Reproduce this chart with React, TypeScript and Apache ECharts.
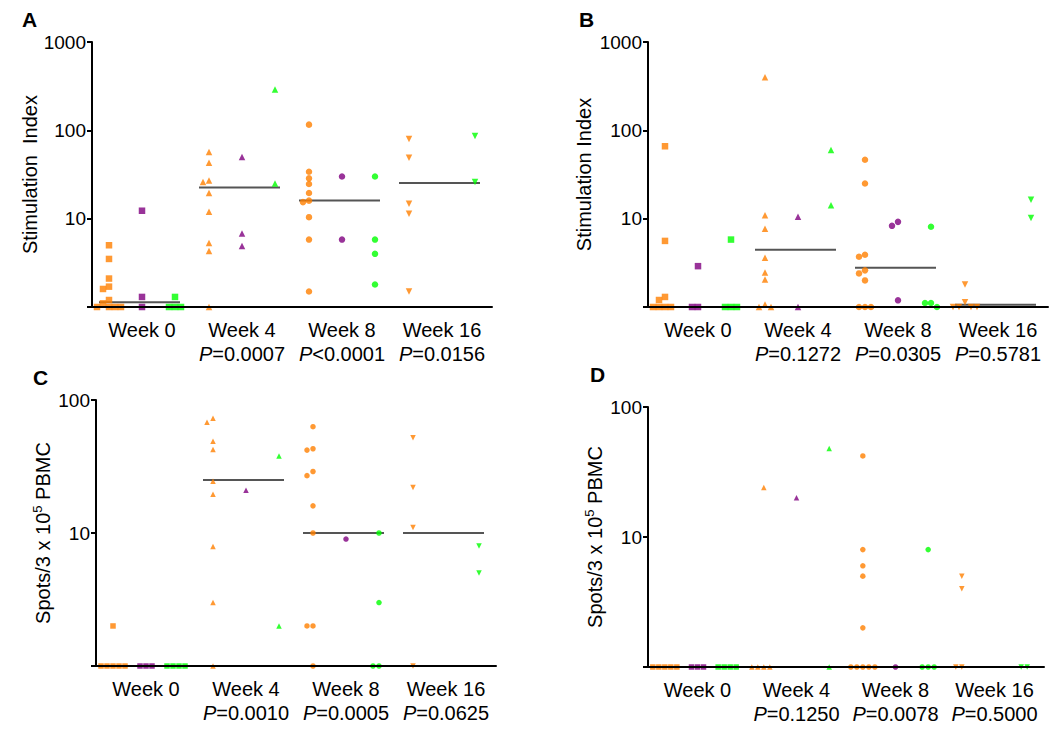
import React, { useEffect, useRef } from "react";
import * as echarts from "echarts";

// ---------- data ----------
const weeks = ["Week 0", "Week 4", "Week 8", "Week 16"];

const pA = ["", "=0.0007", "<0.0001", "=0.0156"];
const pB = ["", "=0.1272", "=0.0305", "=0.5781"];
const pC = ["", "=0.0010", "=0.0005", "=0.0625"];
const pD = ["", "=0.1250", "=0.0078", "=0.5000"];

// Panel A (Stimulation Index)
const aOrange = [
  [5.0, 3.5, 2.1, 1.7, 1.6, 1.2, 1.1, 1, 1, 1, 1],
  [57, 43, 27, 26, 19.5, 12, 5.3, 4.3, 1],
  [116, 34, 28.6, 24.7, 19.5, 16, 15.4, 10.4, 5.8, 1.5],
  [80, 49, 14.8, 11.4, 1.5],
];
const aPurple = [[12.3, 1.3, 1], [50, 6.8, 4.9], [30, 5.8], []];
const aGreen = [[1.3, 1, 1, 1], [290, 25], [30, 5.8, 4.0, 1.8], [86, 26]];
const aMedian = [1.13, 22.6, 16.1, 25.3];

// Panel B (Stimulation Index)
const bOrange = [
  [66, 5.6, 1.3, 1.2, 1, 1, 1, 1],
  [400, 10.9, 7.7, 3.6, 2.45, 2.05, 1.07, 1, 1],
  [46.5, 25, 3.9, 3.7, 2.6, 2.4, 2.0, 1, 1, 1],
  [1.8, 1.13, 1, 1, 1, 1],
];
const bPurple = [[2.9, 1, 1], [10.5, 1], [9.2, 8.3, 1.19], []];
const bGreen = [[5.8, 1, 1, 1], [60, 14.2], [8.1, 1.11, 1.11, 1], [16.4, 10.2]];
const bMedian = [1, 4.46, 2.78, 1.06];

// Panel C (Spots/3 x 10^5 PBMC)
const cOrange = [
  [2, 1, 1, 1, 1, 1],
  [73, 68, 49, 42.5, 24.5, 19.6, 7.9, 3, 1],
  [63, 43, 42, 29, 27, 16, 10, 2, 2, 1],
  [52, 22, 11, 1],
];
const cPurple = [[1, 1, 1], [21], [9], []];
const cGreen = [[1, 1, 1, 1], [38, 2], [10, 3, 1, 1], [8, 5]];
const cMedian = [1, 25, 10, 10];

// Panel D (Spots/3 x 10^5 PBMC)
const dOrange = [
  [1, 1, 1, 1, 1],
  [24, 1, 1, 1, 1],
  [42, 8, 6, 5, 2, 1, 1, 1, 1, 1],
  [5, 4, 1, 1],
];
const dPurple = [[1, 1, 1], [20], [1], []];
const dGreen = [[1, 1, 1, 1], [48, 1], [8, 1, 1, 1], [1, 1]];
const dMedian = [1, 1, 1, 1];

// ---------- styling / layout ----------
const FONT = "'Liberation Sans', Arial, Helvetica, sans-serif";
const ORANGE = "#FF8000";
const PURPLE = "#800080";
const GREEN = "#00FF00";

type Panel = {
  letter: string;
  letterPos: [number, number];
  grid: { left: number; top: number; width: number; height: number };
  yMax: number;
  yName: string;
  nameGap: number;
  pvals: string[];
  orange: number[][];
  purple: number[][];
  green: number[][];
  medians: number[];
  size: number;
};

const SI = "Stimulation  Index";
const SP = "Spots/3 x 10{sup|5} PBMC";

const panels: Panel[] = [
  { letter: "A", letterPos: [22, 9], grid: { left: 92, top: 42, width: 400, height: 265 }, yMax: 1000, yName: SI, nameGap: 52, pvals: pA, orange: aOrange, purple: aPurple, green: aGreen, medians: aMedian, size: 6.5 },
  { letter: "B", letterPos: [579, 9], grid: { left: 648, top: 42, width: 400, height: 265 }, yMax: 1000, yName: "Stimulation Index", nameGap: 54, pvals: pB, orange: bOrange, purple: bPurple, green: bGreen, medians: bMedian, size: 6.5 },
  { letter: "C", letterPos: [33, 367], grid: { left: 96, top: 400, width: 400, height: 266 }, yMax: 100, yName: SP, nameGap: 42, pvals: pC, orange: cOrange, purple: cPurple, green: cGreen, medians: cMedian, size: 5.5 },
  { letter: "D", letterPos: [590, 364], grid: { left: 648, top: 407, width: 396, height: 260 }, yMax: 100, yName: SP, nameGap: 42, pvals: pD, orange: dOrange, purple: dPurple, green: dGreen, medians: dMedian, size: 5.5 },
];

const weekSymbols = ["rect", "triangle", "circle", "triangle"];
const weekRotate = [0, 0, 0, 180];
const subOffsets = [0.17, 0.5, 0.83];

// simple beeswarm: spread points with nearly equal values sideways
function swarm(values: number[], center: number, pxPerUnitX: number, pxPerDecade: number): number[][] {
  const placed: { x: number; y: number }[] = [];
  const step = 6;
  const minDy = 5;
  return values.map((v) => {
    const y = Math.log10(v) * pxPerDecade;
    let chosen = 0;
    for (let k = 0; k < 60; k++) {
      const off = k === 0 ? 0 : k % 2 ? -Math.ceil(k / 2) : Math.ceil(k / 2);
      const x = off * step;
      const hit = placed.some((p) => Math.abs(p.x - x) < step - 0.1 && Math.abs(p.y - y) < minDy);
      if (!hit) {
        chosen = x;
        break;
      }
    }
    placed.push({ x: chosen, y });
    return [center + chosen / pxPerUnitX, v];
  });
}

function buildOption() {
  const grids: any[] = [];
  const xAxes: any[] = [];
  const yAxes: any[] = [];
  const series: any[] = [];
  const graphics: any[] = [];

  panels.forEach((p, pi) => {
    grids.push({ ...p.grid });
    xAxes.push({ type: "value", gridIndex: pi, min: 0, max: 4, show: false, position: "top" });
    xAxes.push({
      type: "category",
      gridIndex: pi,
      position: "bottom",
      data: weeks,
      boundaryGap: true,
      z: 5,
      axisLine: { show: true, lineStyle: { color: "#000", width: 2 } },
      axisTick: { show: false },
      splitLine: { show: false },
      axisLabel: {
        interval: 0,
        margin: 11,
        color: "#000",
        fontFamily: FONT,
        fontSize: 20,
        lineHeight: 24,
        formatter: (v: string, i: number) => (p.pvals[i] ? `${v}\n{i|P}${p.pvals[i]}` : v),
        rich: { i: { fontStyle: "italic", fontFamily: FONT, fontSize: 20, lineHeight: 24, color: "#000" } },
      },
    });
    yAxes.push({
      type: "log",
      logBase: 10,
      gridIndex: pi,
      min: 1,
      max: p.yMax,
      z: 5,
      axisLine: { show: true, lineStyle: { color: "#000", width: 2 } },
      axisTick: { show: true, length: 5, lineStyle: { color: "#000", width: 2 } },
      splitLine: { show: false },
      axisLabel: {
        margin: 6,
        color: "#000",
        fontFamily: FONT,
        fontSize: 19,
        formatter: (v: number) => (v === 1 ? "" : String(v)),
      },
      name: p.yName,
      nameLocation: "middle",
      nameRotate: 90,
      nameGap: p.nameGap,
      nameTextStyle: {
        color: "#000",
        fontFamily: FONT,
        fontSize: 20,
        rich: { sup: { fontSize: 13, fontFamily: FONT, color: "#000", padding: [0, 0, 10, 0] } },
      },
    });

    const pxPerUnitX = p.grid.width / 4;
    const pxPerDecade = p.grid.height / Math.log10(p.yMax);
    const groups = [
      { vals: p.orange, color: ORANGE },
      { vals: p.purple, color: PURPLE },
      { vals: p.green, color: GREEN },
    ];
    weeks.forEach((_, w) => {
      series.push({
        type: "line",
        xAxisIndex: pi * 2,
        yAxisIndex: pi,
        data: [
          [w + 0.07, p.medians[w]],
          [w + 0.88, p.medians[w]],
        ],
        symbol: "none",
        lineStyle: { color: "#555", width: 2 },
        z: 1,
        silent: true,
      });
      groups.forEach((g, gi) => {
        const vals = g.vals[w];
        if (!vals || !vals.length) return;
        series.push({
          type: "scatter",
          xAxisIndex: pi * 2,
          yAxisIndex: pi,
          data: swarm(vals, w + subOffsets[gi], pxPerUnitX, pxPerDecade),
          symbol: weekSymbols[w],
          symbolRotate: weekRotate[w],
          symbolSize: p.size,
          itemStyle: { color: g.color },
          clip: false,
          z: 2,
        });
      });
    });

    graphics.push({
      type: "text",
      left: p.letterPos[0],
      top: p.letterPos[1],
      style: { text: p.letter, fontFamily: FONT, fontSize: 21, fontWeight: "bold", fill: "#000" },
    });
  });

  return {
    animation: false,
    backgroundColor: "#fff",
    grid: grids,
    xAxis: xAxes,
    yAxis: yAxes,
    series,
    graphic: graphics,
  };
}

export default function App() {
  const ref = useRef<HTMLDivElement>(null);
  useEffect(() => {
    if (!ref.current) return;
    const chart = echarts.init(ref.current, undefined, { renderer: "svg" });
    chart.setOption(buildOption() as any);
    return () => chart.dispose();
  }, []);
  return (
    <div
      ref={ref}
      style={{ position: "absolute", left: 0, top: 0, width: 1050, height: 740, background: "#fff" }}
    />
  );
}
